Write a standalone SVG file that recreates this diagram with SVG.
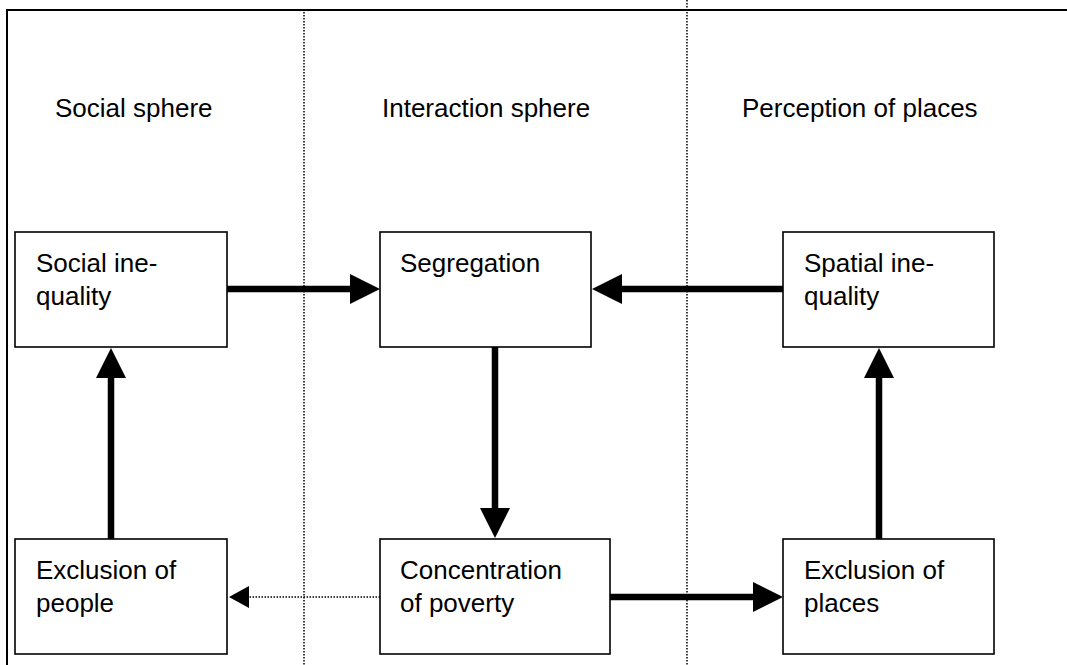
<svg xmlns="http://www.w3.org/2000/svg" width="1067" height="665" viewBox="0 0 1067 665">
<style>
.frame{fill:none;stroke:#000;stroke-width:2}
.sep{fill:none;stroke:#000;stroke-width:1.5;stroke-dasharray:1.5 1.5}
.box{fill:#fff;stroke:#000;stroke-width:1.6}
.t{font-family:"Liberation Sans",Arial,sans-serif;font-size:26px;fill:#000}
.thick{fill:none;stroke:#000;stroke-width:6.5;marker-end:url(#big)}
.dot{fill:none;stroke:#000;stroke-width:1.5;stroke-dasharray:1.5 1.5;marker-end:url(#small)}
</style>
<defs>
<marker id="big" markerUnits="userSpaceOnUse" markerWidth="30" markerHeight="30" refX="2" refY="15" orient="auto" viewBox="0 0 30 30">
<path d="M0,0 L30,15 L0,30 z" fill="#000"/>
</marker>
<marker id="small" markerUnits="userSpaceOnUse" markerWidth="20" markerHeight="22" refX="1" refY="11" orient="auto" viewBox="0 0 20 22">
<path d="M0,0 L20,11 L0,22 z" fill="#000"/>
</marker>
</defs>
<rect width="1067" height="665" fill="#fff"/>
<g id="frame">
<path class="frame" d="M7,665 V10 H1067"/>
<line class="sep" x1="304" y1="12" x2="304" y2="665"/>
<line class="sep" x1="687" y1="0" x2="687" y2="665"/>
<text class="t" x="55" y="117">Social sphere</text>
<text class="t" x="382" y="117">Interaction sphere</text>
<text class="t" x="742" y="117">Perception of places</text>
</g>
<g id="connectors">
<line class="thick" x1="227" y1="289" x2="352" y2="289"/>
<line class="thick" x1="783" y1="289" x2="620" y2="289"/>
<line class="thick" x1="495" y1="347" x2="495" y2="510"/>
<line class="thick" x1="111" y1="539" x2="111" y2="376"/>
<line class="thick" x1="879" y1="539" x2="879" y2="376"/>
<line class="thick" x1="610" y1="597" x2="755" y2="597"/>
<line class="dot" x1="380" y1="597" x2="248" y2="597"/>
</g>
<g id="social-inequality">
<rect class="box" x="15" y="232" width="212" height="115"/>
<text class="t" x="36" y="272">Social ine-</text>
<text class="t" x="36" y="305">quality</text>
</g>
<g id="segregation">
<rect class="box" x="380" y="232" width="211" height="115"/>
<text class="t" x="400" y="272">Segregation</text>
</g>
<g id="spatial-inequality">
<rect class="box" x="783" y="232" width="211" height="115"/>
<text class="t" x="804" y="272">Spatial ine-</text>
<text class="t" x="804" y="305">quality</text>
</g>
<g id="exclusion-of-people">
<rect class="box" x="15" y="539" width="212" height="115"/>
<text class="t" x="36" y="579">Exclusion of</text>
<text class="t" x="36" y="612">people</text>
</g>
<g id="concentration-of-poverty">
<rect class="box" x="380" y="539" width="230" height="115"/>
<text class="t" x="400" y="579">Concentration</text>
<text class="t" x="400" y="612">of poverty</text>
</g>
<g id="exclusion-of-places">
<rect class="box" x="783" y="539" width="211" height="115"/>
<text class="t" x="804" y="579">Exclusion of</text>
<text class="t" x="804" y="612">places</text>
</g>
</svg>
